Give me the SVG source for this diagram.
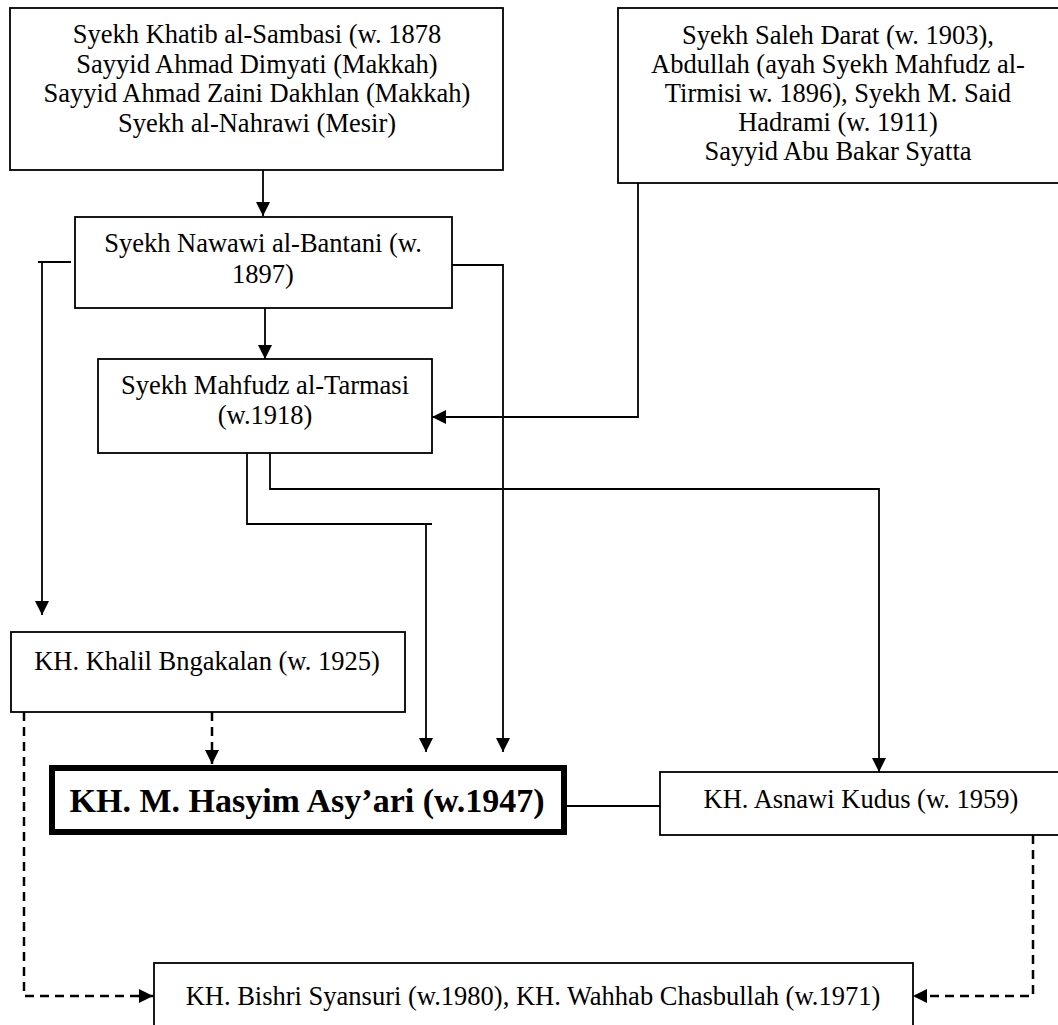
<svg xmlns="http://www.w3.org/2000/svg" width="1058" height="1025" viewBox="0 0 1058 1025">
<style>
.box{fill:#fff;stroke:#000;stroke-width:1.8}
.main{fill:#fff;stroke:#000;stroke-width:6}
.t{font-family:"Liberation Serif","Times New Roman",serif;font-size:26.5px;fill:#000;text-anchor:middle}
.b{font-family:"Liberation Serif","Times New Roman",serif;font-size:34px;font-weight:bold;fill:#000;text-anchor:middle}
.c{fill:none;stroke:#000;stroke-width:1.8}
.d{fill:none;stroke:#000;stroke-width:2.5;stroke-dasharray:9 6}
</style>
<defs>
<marker id="ah" markerUnits="userSpaceOnUse" markerWidth="14" markerHeight="14" viewBox="0 0 14 14" refX="14" refY="7" orient="auto">
<path d="M0,0 L14,7 L0,14 z" fill="#000"/>
</marker>
</defs>
<rect width="1058" height="1025" fill="#fff"/>
<g id="connectors">
<path class="c" d="M263,170 V216" marker-end="url(#ah)"/>
<path class="c" d="M265,308 V359" marker-end="url(#ah)"/>
<path class="c" d="M71,262 H38"/>
<path class="c" d="M42,262 V615" marker-end="url(#ah)"/>
<path class="c" d="M452,265 H503 V752" marker-end="url(#ah)"/>
<path class="c" d="M638,183 V417 H432" marker-end="url(#ah)"/>
<path class="c" d="M270,453 V489 H879 V772" marker-end="url(#ah)"/>
<path class="c" d="M247,453 V524 H432"/>
<path class="c" d="M426,523 V752" marker-end="url(#ah)"/>
<path class="c" d="M567,806 H660"/>
<path class="d" d="M212,712 V764" marker-end="url(#ah)"/>
<path class="d" d="M24,712 V996 H153" marker-end="url(#ah)"/>
<path class="d" d="M1033,835 V996 H913" marker-end="url(#ah)"/>
</g>
<g id="node-sambasi">
<rect class="box" x="10" y="8" width="493" height="162"/>
<text class="t" x="257" y="43">Syekh Khatib al-Sambasi (w. 1878</text>
<text class="t" x="257" y="72.5">Sayyid Ahmad Dimyati (Makkah)</text>
<text class="t" x="257" y="102">Sayyid Ahmad Zaini Dakhlan (Makkah)</text>
<text class="t" x="257" y="131.5">Syekh al-Nahrawi (Mesir)</text>
</g>
<g id="node-saleh">
<rect class="box" x="618" y="8" width="460" height="175"/>
<text class="t" x="838" y="44">Syekh Saleh Darat (w. 1903),</text>
<text class="t" x="838" y="73">Abdullah (ayah Syekh Mahfudz al-</text>
<text class="t" x="838" y="102">Tirmisi w. 1896), Syekh M. Said</text>
<text class="t" x="838" y="131">Hadrami (w. 1911)</text>
<text class="t" x="838" y="160">Sayyid Abu Bakar Syatta</text>
</g>
<g id="node-nawawi">
<rect class="box" x="75" y="217" width="377" height="91"/>
<text class="t" x="263" y="252">Syekh Nawawi al-Bantani (w.</text>
<text class="t" x="263" y="283">1897)</text>
</g>
<g id="node-mahfudz">
<rect class="box" x="98" y="359" width="334" height="94"/>
<text class="t" x="265" y="394">Syekh Mahfudz al-Tarmasi</text>
<text class="t" x="265" y="424">(w.1918)</text>
</g>
<g id="node-khalil">
<rect class="box" x="11" y="632" width="394" height="80"/>
<text class="t" x="207" y="670">KH. Khalil Bngakalan (w. 1925)</text>
</g>
<g id="node-hasyim">
<rect class="main" x="52" y="768" width="512" height="64"/>
<text class="b" x="307" y="812">KH. M. Hasyim Asy’ari (w.1947)</text>
</g>
<g id="node-asnawi">
<rect class="box" x="660" y="772" width="420" height="63"/>
<text class="t" x="861" y="808">KH. Asnawi Kudus (w. 1959)</text>
</g>
<g id="node-bishri">
<rect class="box" x="154" y="963" width="759" height="90"/>
<text class="t" x="533" y="1005">KH. Bishri Syansuri (w.1980), KH. Wahhab Chasbullah (w.1971)</text>
</g>
</svg>
